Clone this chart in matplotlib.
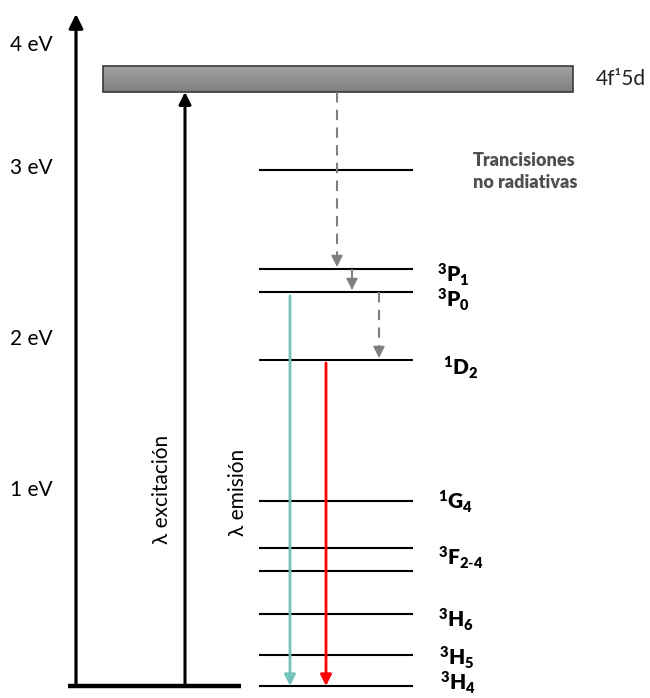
import numpy as np
import matplotlib
matplotlib.use("Agg")
import matplotlib.pyplot as plt
from matplotlib.patches import Rectangle
from matplotlib.colors import LinearSegmentedColormap

plt.rcParams['font.family'] = ['Lato', 'DejaVu Sans']
plt.rcParams['mathtext.fontset'] = 'custom'
plt.rcParams['mathtext.rm'] = 'Lato:weight=bold'
plt.rcParams['mathtext.bf'] = 'Lato:weight=heavy'
plt.rcParams['mathtext.it'] = 'Lato:italic'

# ---- data (diagram coordinates, y grows downward like the drawing) ----
energy_tick_labels = ['4 eV', '3 eV', '2 eV', '1 eV']
energy_tick_y = [45, 168, 339, 490]

band_top, band_bottom = 66, 92
band_x = (103, 573)
band_label = '4f¹5d'

level_y = [170, 269, 292, 360, 501, 548, 571, 614, 655, 686]
level_x = (259, 413)

state_labels = [r'$\mathbf{^{3}P_{1}}$', r'$\mathbf{^{3}P_{0}}$', r'$\mathbf{^{1}D_{2}}$',
                r'$\mathbf{^{1}G_{4}}$', r'$\mathbf{^{3}F_{2\text{-}4}}$', r'$\mathbf{^{3}H_{6}}$',
                r'$\mathbf{^{3}H_{5}}$', r'$\mathbf{^{3}H_{4}}$']
state_label_x = [437, 437, 443, 438, 438, 438, 439, 440]
state_label_y = [282, 307, 375, 509, 565, 627, 665, 690]

ground_y = 686
axis_x, axis_top = 76, 14
excitation_x = 185
baseline_x = (68, 241)

# non-radiative transitions: (x, y_from, y_to)
nonrad_x = [337, 352, 379]
nonrad_from = [92, 269, 292]
nonrad_to = [269, 292, 360]

# radiative emissions: (x, y_from, color)
emis_x = [290, 326]
emis_from = [296, 363]
emis_colors = ['#72c2bb', '#ff0000']

fig = plt.figure(figsize=(6.5, 6.98), dpi=100)
ax = fig.add_axes([0, 0, 1, 1])
ax.set_xlim(0, 650)
ax.set_ylim(698, 0)
ax.axis('off')

def arrow(x, y0, y1, color='black', lw=2.2, ms=12, ls='-'):
    ax.annotate('', xy=(x, y1), xytext=(x, y0),
                arrowprops=dict(arrowstyle='-|>,head_length=0.6,head_width=0.3',
                                lw=lw, color=color, mutation_scale=ms,
                                shrinkA=0, shrinkB=0, linestyle=ls))

# energy axis
arrow(axis_x, ground_y, axis_top, lw=2.3, ms=14)
for lab, y in zip(energy_tick_labels, energy_tick_y):
    ax.text(53, y, lab, ha='right', va='center', fontsize=15)

# 4f15d band with gradient
grad = np.linspace(0, 1, 100).reshape(-1, 1)
cmap = LinearSegmentedColormap.from_list('g', ['#a3a3a3', '#7f7f7f'])
ax.imshow(grad, extent=(band_x[0], band_x[1], band_bottom, band_top), cmap=cmap,
          aspect='auto', origin='upper', zorder=1)
ax.add_patch(Rectangle((band_x[0], band_top), band_x[1] - band_x[0], band_bottom - band_top,
                       fill=False, ec='#3a3a3a', lw=1.2, zorder=2))
ax.text(596, (band_top + band_bottom) / 2, band_label, ha='left', va='center', fontsize=15,
        color='#222222')
ax.set_xlim(0, 650)
ax.set_ylim(698, 0)

# ground baseline and excitation
ax.plot(baseline_x, [ground_y, ground_y], color='black', lw=3.2, solid_capstyle='butt')
arrow(excitation_x, ground_y, band_bottom, lw=2.2, ms=12)
ax.text(162, 489, 'λ excitación', rotation=90, ha='center', va='center', fontsize=15)
ax.text(238, 492, 'λ emisión', rotation=90, ha='center', va='center', fontsize=15)

# levels
for y in level_y:
    ax.plot(level_x, [y, y], color='black', lw=1.5, solid_capstyle='butt')

for lab, x, y in zip(state_labels, state_label_x, state_label_y):
    ax.text(x, y, lab, ha='left', va='baseline', fontsize=15)

# non-radiative transitions
for x, y0, y1 in zip(nonrad_x, nonrad_from, nonrad_to):
    ax.plot([x, x], [y0, y1 - 7], color='#7f7f7f', lw=1.5, dashes=(5, 3.5))
    arrow(x, y1 - 9, y1 - 2, color='#7f7f7f', lw=1.0, ms=12)

ax.text(473, 160, 'Trancisiones', ha='left', va='center', fontsize=13,
        fontweight='heavy', color='#4f4f4f')
ax.text(473, 183, 'no radiativas', ha='left', va='center', fontsize=13,
        fontweight='heavy', color='#4f4f4f')

# emissions
for x, y0, c in zip(emis_x, emis_from, emis_colors):
    arrow(x, y0, ground_y, color=c, lw=2.0, ms=11)

fig.savefig('out.png', dpi=100)
